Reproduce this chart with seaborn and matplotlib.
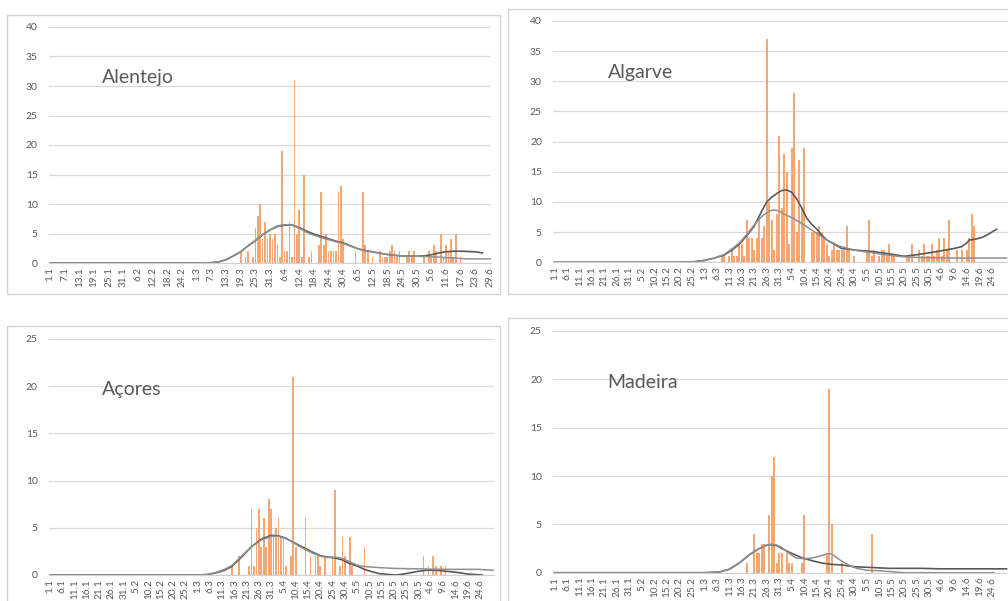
import numpy as np
import pandas as pd
import seaborn as sns
import matplotlib
matplotlib.use("Agg")
import matplotlib.pyplot as plt
from matplotlib.patches import Rectangle

# eixo das datas (2020): 1.1 ... 30.6
dias = pd.date_range("2020-01-01", "2020-06-30")
rotulos = [f"{d.day}.{d.month}" for d in dias]
ticks_6 = rotulos[0:181:6]   # Alentejo: 1.1, 7.1, ... 29.6
ticks_5 = rotulos[0:176:5]   # restantes: 1.1, 6.1, ... 24.6

# casos diarios (valores a partir da data de inicio)
alentejo_inicio = "19.3"
alentejo_casos = [2, 0, 1, 2, 0, 1, 6, 8, 10, 4, 7, 4, 5, 4, 5, 3, 1, 19, 2, 2,
                  7, 1, 31, 5, 9, 1, 15, 0, 1, 2, 0, 0, 3, 12, 3, 5, 2, 2, 2, 2,
                  12, 13, 4, 0, 0, 0, 0, 2, 0, 0, 12, 3, 2, 0, 1, 0, 0, 2, 1, 1,
                  1, 2, 3, 2, 1, 2, 0, 0, 1, 2, 1, 2, 0, 0, 0, 1, 0, 2, 1, 3,
                  2, 0, 5, 1, 3, 2, 4, 1, 5, 0, 1]

algarve_inicio = "8.3"
algarve_casos = [1, 1, 0, 1, 2, 1, 1, 3, 3, 1, 7, 4, 4, 2, 4, 7, 4, 6, 37, 10,
                 7, 2, 8, 21, 9, 18, 15, 3, 19, 28, 5, 17, 9, 19, 0, 0, 5, 5, 5, 6,
                 5, 4, 3, 1, 2, 3, 2, 2, 2, 2, 6, 2, 0, 1, 0, 0, 0, 0, 2, 7,
                 1, 2, 0, 1, 2, 2, 1, 3, 1, 1, 0, 0, 0, 0, 1, 1, 3, 0, 0, 2,
                 1, 3, 1, 1, 3, 1, 2, 4, 1, 4, 2, 7, 0, 0, 2, 0, 2, 0, 2, 4,
                 8, 6]

acores_inicio = "15.3"
acores_casos = [1, 0, 0, 2, 0, 0, 0, 1, 7, 1, 5, 7, 3, 6, 3, 8, 7, 4, 5, 6,
                4, 4, 1, 0, 2, 21, 3, 0, 0, 0, 6, 0, 2, 0, 2, 2, 1, 0, 2, 0,
                0, 2, 9, 0, 1, 4, 2, 0, 4, 1, 0, 0, 0, 0, 3, 0, 0, 0, 0, 0,
                0, 0, 0, 0, 0, 0, 0, 0, 0, 0, 0, 0, 0, 0, 0, 0, 0, 0, 2, 0,
                1, 0, 2, 1, 0, 1, 0, 1]

madeira_inicio = "18.3"
madeira_casos = [1, 0, 0, 4, 2, 2, 3, 3, 0, 6, 10, 12, 1, 2, 2, 0, 2, 1, 1, 0,
                 0, 0, 1, 6, 0, 0, 0, 0, 0, 0, 0, 0, 2, 19, 5, 0, 0, 0, 1, 0,
                 0, 0, 0, 0, 0, 0, 0, 0, 0, 0, 4]

# linhas de tendencia (data, valor)
alentejo_t1_x = ["1.1", "1.3", "7.3", "10.3", "13.3", "16.3", "19.3", "22.3", "25.3", "28.3",
                 "31.3", "3.4", "6.4", "9.4", "12.4", "15.4", "18.4", "21.4", "24.4", "27.4",
                 "30.4", "3.5", "6.5", "9.5", "12.5", "15.5", "18.5", "21.5", "24.5", "27.5",
                 "30.5", "2.6", "5.6", "8.6", "11.6", "14.6", "17.6", "20.6", "23.6", "26.6"]
alentejo_t1_y = [0, 0, 0.05, 0.2, 0.55, 1.2, 1.9, 2.9, 3.8, 4.8,
                 5.6, 6.2, 6.4, 6.45, 6.0, 5.4, 4.9, 4.5, 4.1, 3.7,
                 3.4, 2.9, 2.4, 2.1, 1.9, 1.65, 1.45, 1.3, 1.2, 1.15,
                 1.15, 1.2, 1.4, 1.7, 1.9, 2.0, 2.0, 1.95, 1.9, 1.7]
alentejo_t2_x = ["1.1", "1.3", "7.3", "10.3", "13.3", "16.3", "19.3", "22.3", "25.3", "28.3",
                 "31.3", "3.4", "6.4", "9.4", "12.4", "15.4", "18.4", "21.4", "24.4", "27.4",
                 "30.4", "3.5", "6.5", "9.5", "12.5", "15.5", "18.5", "21.5", "24.5", "27.5",
                 "30.5", "2.6", "5.6", "8.6", "11.6", "14.6", "17.6", "20.6", "23.6", "30.6"]
alentejo_t2_y = [0, 0, 0.05, 0.2, 0.55, 1.2, 1.9, 2.9, 3.8, 4.8,
                 5.6, 6.3, 6.5, 6.4, 5.9, 5.2, 4.7, 4.3, 3.95, 3.6,
                 3.3, 2.85, 2.4, 2.1, 1.9, 1.65, 1.45, 1.3, 1.2, 1.15,
                 1.15, 1.1, 1.05, 1.0, 0.9, 0.85, 0.75, 0.7, 0.7, 0.7]

algarve_t1_x = ["1.1", "20.2", "25.2", "1.3", "5.3", "9.3", "12.3", "15.3", "18.3", "21.3",
                "24.3", "26.3", "28.3", "30.3", "1.4", "3.4", "5.4", "7.4", "9.4", "11.4",
                "13.4", "15.4", "17.4", "19.4", "22.4", "25.4", "1.5", "7.5", "14.5", "20.5",
                "24.5", "28.5", "1.6", "5.6", "9.6", "12.6", "14.6", "15.6", "17.6", "20.6",
                "22.6", "24.6", "26.6"]
algarve_t1_y = [0, 0, 0.05, 0.3, 0.7, 1.2, 2.0, 3.0, 4.4, 6.0,
                8.5, 10.0, 10.8, 11.4, 11.9, 12.0, 11.6, 10.5, 9.0, 7.3,
                6.3, 5.5, 4.5, 3.7, 3.0, 2.3, 2.0, 1.8, 1.4, 1.0,
                1.2, 1.45, 1.7, 2.0, 2.3, 2.6, 3.2, 3.7, 3.8, 4.1,
                4.5, 5.0, 5.5]
algarve_t2_x = ["1.1", "20.2", "25.2", "1.3", "5.3", "9.3", "12.3", "15.3", "18.3", "21.3",
                "24.3", "27.3", "29.3", "31.3", "2.4", "5.4", "8.4", "11.4", "15.4", "19.4",
                "24.4", "30.4", "7.5", "13.5", "20.5", "26.5", "1.6", "9.6", "30.6"]
algarve_t2_y = [0, 0, 0.05, 0.3, 0.7, 1.3, 2.2, 3.2, 4.6, 6.2,
                7.6, 8.5, 8.7, 8.5, 8.0, 7.4, 6.7, 5.9, 4.8, 3.7,
                2.7, 2.0, 1.6, 1.2, 0.9, 0.8, 0.75, 0.7, 0.7]

acores_t1_x = ["1.1", "1.3", "5.3", "9.3", "12.3", "15.3", "19.3", "23.3", "27.3", "31.3",
               "3.4", "6.4", "8.4", "11.4", "14.4", "17.4", "20.4", "23.4", "26.4", "29.4",
               "2.5", "5.5", "8.5", "11.5", "14.5", "18.5", "21.5", "25.5", "29.5", "2.6",
               "6.6", "10.6", "14.6", "19.6", "25.6"]
acores_t1_y = [0, 0, 0.05, 0.25, 0.5, 0.9, 1.9, 3.0, 3.8, 4.2,
               4.15, 3.9, 3.6, 3.2, 2.8, 2.4, 2.05, 1.9, 1.8, 1.6,
               1.2, 0.95, 0.6, 0.35, 0.15, 0.05, 0.0, 0.15, 0.35, 0.5,
               0.5, 0.4, 0.3, 0.1, 0.0]
acores_t2_x = ["1.1", "1.3", "5.3", "9.3", "12.3", "15.3", "19.3", "23.3", "27.3", "31.3",
               "3.4", "6.4", "8.4", "11.4", "14.4", "17.4", "20.4", "23.4", "26.4", "29.4",
               "2.5", "5.5", "8.5", "13.5", "20.5", "30.5", "9.6", "23.6", "30.6"]
acores_t2_y = [0, 0, 0.05, 0.3, 0.6, 1.0, 2.0, 3.0, 3.7, 4.1,
               4.1, 3.85, 3.6, 3.1, 2.7, 2.3, 2.0, 1.85, 1.9, 1.75,
               1.4, 1.05, 0.9, 0.8, 0.7, 0.65, 0.6, 0.6, 0.5]

madeira_t1_x = ["1.1", "1.3", "7.3", "11.3", "15.3", "19.3", "23.3", "26.3", "28.3", "30.3",
                "1.4", "5.4", "9.4", "13.4", "17.4", "21.4", "25.4", "30.4", "6.5", "14.5",
                "27.5", "3.6", "30.6"]
madeira_t1_y = [0, 0, 0.07, 0.35, 1.0, 1.85, 2.5, 2.85, 2.9, 2.8,
                2.5, 2.0, 1.55, 1.25, 1.0, 0.86, 0.8, 0.62, 0.55, 0.45,
                0.45, 0.4, 0.4]
madeira_t2_x = ["1.1", "1.3", "7.3", "11.3", "15.3", "19.3", "23.3", "26.3", "28.3", "30.3",
                "1.4", "3.4", "5.4", "7.4", "10.4", "13.4", "16.4", "19.4", "21.4", "23.4",
                "25.4", "28.4", "1.5", "5.5", "10.5", "15.5", "20.5", "25.6"]
madeira_t2_y = [0, 0, 0.07, 0.35, 1.0, 1.85, 2.5, 2.85, 2.95, 2.85,
                2.6, 2.2, 1.8, 1.5, 1.45, 1.5, 1.7, 1.95, 1.95, 1.55,
                1.2, 0.75, 0.45, 0.25, 0.2, 0.1, 0.0, 0.0]

laranja = "#F4A774"
cinza_escuro = "#595959"
cinza_claro = "#8f8f8f"
texto = "#595959"

sns.set_style("white")
plt.rcParams['font.family'] = ['Lato', 'DejaVu Sans']

W, H = 1008, 601
fig = plt.figure(figsize=(W / 100, H / 100), dpi=100)


def px(x0, y_top, x1, y_bot):
    # retangulo em pixels (origem no topo) -> coordenadas da figura
    return [x0 / W, (H - y_bot) / H, (x1 - x0) / W, (y_bot - y_top) / H]


def pos(r):
    return rotulos.index(r)


def painel(rect, moldura, nome, inicio, casos, t1, t2, ymax, ticks, xmax):
    # moldura do grafico (estilo Excel)
    fig.patches.append(Rectangle((moldura[0], moldura[1]), moldura[2], moldura[3],
                                 transform=fig.transFigure, fill=False,
                                 edgecolor="#d4d4d4", lw=1.0, zorder=0))
    ax = fig.add_axes(rect)
    i0 = pos(inicio)
    df = pd.DataFrame({"dia": rotulos[i0:i0 + len(casos)], "casos": casos})
    df = df[df["casos"] > 0]
    sns.barplot(data=df, x="dia", y="casos", order=rotulos, color=laranja,
                saturation=1, width=0.68, errorbar=None, linewidth=0,
                edgecolor="none", ax=ax)
    sns.lineplot(x=[pos(r) for r in t1[0]], y=t1[1], color=cinza_escuro, lw=1.2, ax=ax)
    sns.lineplot(x=[pos(r) for r in t2[0]], y=t2[1], color=cinza_claro, lw=1.1, ax=ax)

    ax.set_xlim(-0.5, xmax)
    ax.set_ylim(0, ymax)
    ax.set_yticks(np.arange(0, ymax + 1, 5))
    ax.set_xticks([pos(r) for r in ticks])
    ax.set_xticklabels(ticks, rotation=90)
    ax.set_xlabel("")
    ax.set_ylabel("")
    ax.yaxis.grid(True, color="#d9d9d9", lw=0.9)
    ax.set_axisbelow(True)
    for s in ["top", "right", "left"]:
        ax.spines[s].set_visible(False)
    ax.spines["bottom"].set_color("#d0d0d0")
    ax.tick_params(axis="y", length=0, labelsize=7.5, colors=texto, pad=8)
    ax.tick_params(axis="x", length=0, labelsize=7.2, colors=texto, pad=3)
    ax.text(0.12, 0.785, nome, transform=ax.transAxes, fontsize=14,
            color=texto, ha="left", va="center")
    return ax


painel(px(48.8, 27, 491.2, 263), px(7, 15, 500, 294), "Alentejo",
       alentejo_inicio, alentejo_casos, (alentejo_t1_x, alentejo_t1_y),
       (alentejo_t2_x, alentejo_t2_y), 40, ticks_6, 180.5)
painel(px(553, 21, 1008, 262.3), px(508, 9, 1015, 294), "Algarve",
       algarve_inicio, algarve_casos, (algarve_t1_x, algarve_t1_y),
       (algarve_t2_x, algarve_t2_y), 40, ticks_5, 181.5)
painel(px(48.8, 339, 493.5, 575), px(7, 326, 500, 615), "Açores",
       acores_inicio, acores_casos, (acores_t1_x, acores_t1_y),
       (acores_t2_x, acores_t2_y), 25, ticks_5, 180.5)
painel(px(553, 331, 1008, 572.7), px(508, 318, 1015, 615), "Madeira",
       madeira_inicio, madeira_casos, (madeira_t1_x, madeira_t1_y),
       (madeira_t2_x, madeira_t2_y), 25, ticks_5, 181.5)

fig.savefig("out.png", dpi=100)
